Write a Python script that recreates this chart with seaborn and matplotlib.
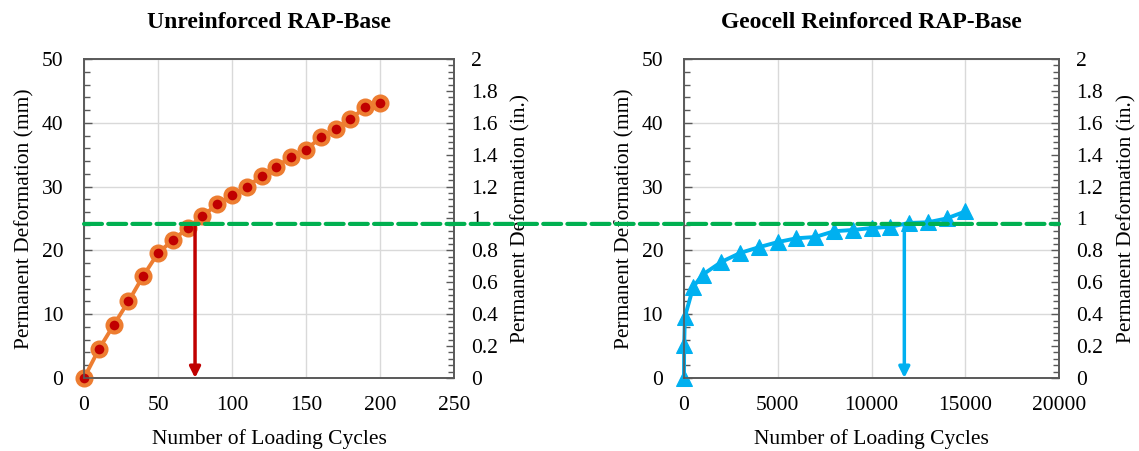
import numpy as np
import pandas as pd
import matplotlib
matplotlib.use("Agg")
import matplotlib.pyplot as plt
from matplotlib.patches import ConnectionPatch
from matplotlib.ticker import MultipleLocator, FuncFormatter
import seaborn as sns

# Unreinforced RAP base: permanent deformation (mm) vs loading cycles
unreinf_cycles = [0, 10, 20, 30, 40, 50, 60, 70, 80, 90, 100,
                  110, 120, 130, 140, 150, 160, 170, 180, 190, 200]
unreinf_def_mm = [0.0, 4.5, 8.3, 12.0, 16.0, 19.6, 21.6, 23.5, 25.4, 27.2, 28.7,
                  30.0, 31.6, 33.1, 34.7, 35.8, 37.7, 39.0, 40.6, 42.4, 43.1]

# Geocell reinforced RAP base
geocell_cycles = [0, 10, 50, 500, 1000, 2000, 3000, 4000, 5000, 6000, 7000,
                  8000, 9000, 10000, 11000, 12000, 13000, 14000, 15000]
geocell_def_mm = [0.0, 5.2, 9.6, 14.3, 16.2, 18.2, 19.6, 20.5, 21.3, 21.9, 22.1,
                  23.0, 23.2, 23.5, 23.7, 24.3, 24.4, 25.0, 26.1]

# Failure criterion and cycles at which each base reaches it
criterion_mm = 24.15
unreinf_fail_cycles = 75
geocell_fail_cycles = 11750

titles = ["Unreinforced RAP-Base", "Geocell Reinforced RAP-Base"]
x_label = "Number of Loading Cycles"
y_label_mm = "Permanent Deformation (mm)"
y_label_in = "Permanent Deformation (in.)"

sns.set_theme(style="white")
plt.rcParams["font.family"] = ["Liberation Serif", "DejaVu Serif"]
plt.rcParams["text.color"] = "black"
plt.rcParams["axes.labelcolor"] = "black"
plt.rcParams["xtick.labelcolor"] = "black"
plt.rcParams["ytick.labelcolor"] = "black"

FS = 15.5
ORANGE = "#ED7D31"
DARKRED = "#C00000"
BLUE = "#00B0F0"
GREEN = "#00B050"
GRID = "#D9D9D9"
SPINE = "#595959"

fig = plt.figure(figsize=(11.39, 4.51), dpi=100)
ax1 = fig.add_axes([0.0738, 0.1619, 0.3248, 0.7073])
ax2 = fig.add_axes([0.6005, 0.1619, 0.3293, 0.7073])

df1 = pd.DataFrame({"cycles": unreinf_cycles, "def": unreinf_def_mm})
df2 = pd.DataFrame({"cycles": geocell_cycles, "def": geocell_def_mm})

sns.lineplot(data=df1, x="cycles", y="def", ax=ax1, color=ORANGE, linewidth=2.8,
             marker="o", markersize=10, markerfacecolor=DARKRED,
             markeredgecolor=ORANGE, markeredgewidth=3.0, clip_on=False, zorder=4)
sns.lineplot(data=df2, x="cycles", y="def", ax=ax2, color=BLUE, linewidth=2.8,
             marker="^", markersize=11.5, markerfacecolor=BLUE,
             markeredgecolor=BLUE, clip_on=False, zorder=4)


def style_axes(ax, xmax, xstep, title):
    ax.set_xlim(0, xmax)
    ax.set_ylim(0, 50)
    ax.xaxis.set_major_locator(MultipleLocator(xstep))
    ax.yaxis.set_major_locator(MultipleLocator(10))
    ax.yaxis.set_minor_locator(MultipleLocator(2))
    ax.grid(True, which="major", color=GRID, linewidth=1.0)
    ax.set_axisbelow(True)
    for s in ax.spines.values():
        s.set_visible(True)
        s.set_color(SPINE)
        s.set_linewidth(1.2)
    ax.tick_params(axis="y", which="major", direction="in", length=6, width=1,
                   color=SPINE, labelsize=FS, pad=15, right=False)
    ax.tick_params(axis="y", which="minor", direction="in", length=4, width=1,
                   color=SPINE, left=True, right=False)
    ax.tick_params(axis="x", which="major", direction="in", length=0,
                   labelsize=FS, pad=13)
    ax.set_xlabel(x_label, fontsize=FS, labelpad=10)
    ax.set_ylabel(y_label_mm, fontsize=FS, labelpad=5)
    ax.set_title(title, fontsize=17, fontweight="bold", pad=22)

    axr = ax.twinx()
    axr.set_ylim(0, 2)
    axr.yaxis.set_major_locator(MultipleLocator(0.2))
    axr.yaxis.set_minor_locator(MultipleLocator(0.04))
    axr.yaxis.set_major_formatter(FuncFormatter(lambda v, p: f"{v:g}"))
    axr.tick_params(axis="y", which="major", direction="in", length=6, width=1,
                    color=SPINE, labelsize=FS, pad=12)
    axr.tick_params(axis="y", which="minor", direction="in", length=4, width=1,
                    color=SPINE)
    axr.set_ylabel(y_label_in, fontsize=FS, labelpad=10)
    for s in axr.spines.values():
        s.set_color(SPINE)
        s.set_linewidth(1.2)
    axr.grid(False)
    return axr


style_axes(ax1, 250, 50, titles[0])
style_axes(ax2, 20000, 5000, titles[1])

# Arrows from the criterion line down to the cycle count at failure
ax1.annotate("", xy=(unreinf_fail_cycles, 0), xytext=(unreinf_fail_cycles, criterion_mm),
             arrowprops=dict(arrowstyle="-|>", color=DARKRED, lw=2.5,
                             mutation_scale=16, shrinkA=0, shrinkB=0),
             zorder=5, annotation_clip=False)
ax2.annotate("", xy=(geocell_fail_cycles, 0), xytext=(geocell_fail_cycles, criterion_mm),
             arrowprops=dict(arrowstyle="-|>", color=BLUE, lw=2.5,
                             mutation_scale=16, shrinkA=0, shrinkB=0),
             zorder=5, annotation_clip=False)

# Failure criterion drawn across both panels
con = ConnectionPatch(xyA=(0, criterion_mm), coordsA=ax1.transData,
                      xyB=(20000, criterion_mm), coordsB=ax2.transData,
                      color=GREEN, linewidth=3, linestyle=(0, (4.3, 1.5)), zorder=10)
fig.add_artist(con)

fig.savefig("out.png", dpi=100)
